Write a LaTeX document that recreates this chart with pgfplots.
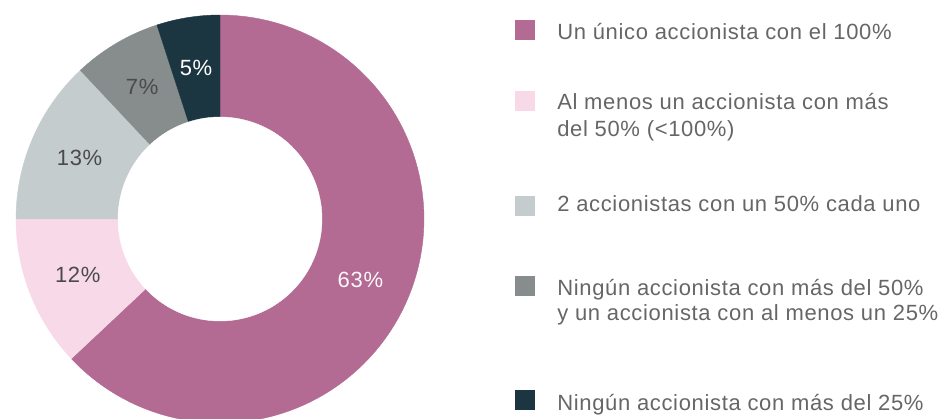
\documentclass[border=0pt]{standalone}
\usepackage{fontspec}
\setmainfont{Liberation Sans}[LetterSpace=3]
\usepackage{pgfplots}
\pgfplotsset{compat=1.18}
\usepackage{pgfplotstable}
\definecolor{c1}{HTML}{B36A93}
\definecolor{c2}{HTML}{F8D9E8}
\definecolor{c3}{HTML}{C5CCCD}
\definecolor{c4}{HTML}{868D8C}
\definecolor{c5}{HTML}{1B3640}
\definecolor{txt}{HTML}{666666}
\definecolor{lbl}{HTML}{4A4A4A}

\pgfplotstableread{
id value
1 63
2 12
3 13
4 7
5 5
}\shares

\begin{document}
\begin{tikzpicture}
\pgfplotstablegetelem{0}{value}\of\shares \edef\va{\pgfplotsretval}
\pgfplotstablegetelem{1}{value}\of\shares \edef\vb{\pgfplotsretval}
\pgfplotstablegetelem{2}{value}\of\shares \edef\vc{\pgfplotsretval}
\pgfplotstablegetelem{3}{value}\of\shares \edef\vd{\pgfplotsretval}
\pgfplotstablegetelem{4}{value}\of\shares \edef\ve{\pgfplotsretval}
\pgfmathsetmacro\aA{90}
\pgfmathsetmacro\aB{\aA-3.6*\va}
\pgfmathsetmacro\aC{\aB-3.6*\vb}
\pgfmathsetmacro\aD{\aC-3.6*\vc}
\pgfmathsetmacro\aE{\aD-3.6*\vd}
\pgfmathsetmacro\aF{\aE-3.6*\ve}
\pgfmathsetmacro\mA{(\aA+\aB)/2}
\pgfmathsetmacro\mB{(\aB+\aC)/2}
\pgfmathsetmacro\mC{(\aC+\aD)/2}
\pgfmathsetmacro\mD{(\aD+\aE)/2}
\pgfmathsetmacro\mE{(\aE+\aF)/2}
\begin{axis}[
  scale only axis, width=708.75pt, height=313.5pt,
  xmin=0, xmax=945, ymin=0, ymax=418,
  hide axis, clip=true,
]
\path (axis cs:0,0) rectangle (axis cs:945,418);
\addplot[fill=c1, draw=c1, line width=0.3pt, domain=\aB:\aA, samples=100, variable=\t] ({220+204*cos(\t)},{199+204*sin(\t)}) -- (axis cs:220,199) -- cycle;
\addplot[fill=c2, draw=c2, line width=0.3pt, domain=\aC:\aB, samples=40, variable=\t] ({220+204*cos(\t)},{199+204*sin(\t)}) -- (axis cs:220,199) -- cycle;
\addplot[fill=c3, draw=c3, line width=0.3pt, domain=\aD:\aC, samples=40, variable=\t] ({220+204*cos(\t)},{199+204*sin(\t)}) -- (axis cs:220,199) -- cycle;
\addplot[fill=c4, draw=c4, line width=0.3pt, domain=\aE:\aD, samples=30, variable=\t] ({220+204*cos(\t)},{199+204*sin(\t)}) -- (axis cs:220,199) -- cycle;
\addplot[fill=c5, draw=c5, line width=0.3pt, domain=\aF:\aE, samples=30, variable=\t] ({220+204*cos(\t)},{199+204*sin(\t)}) -- (axis cs:220,199) -- cycle;
\addplot[fill=white, draw=white, line width=0.3pt, domain=0:360, samples=150, variable=\t] ({220+102*cos(\t)},{199+102*sin(\t)}) -- cycle;

\tikzset{lab/.style={font=\fontsize{16.5}{19}\selectfont, inner sep=0pt}}
\node[lab, text=white!95!c1] at (axis cs:{220+153*cos(\mA)},{199+153*sin(\mA)}) {\va\%};
\node[lab, text=lbl] at (axis cs:{220+153*cos(\mB)},{199+153*sin(\mB)}) {\vb\%};
\node[lab, text=lbl] at (axis cs:{220+153*cos(\mC)},{199+153*sin(\mC)}) {\vc\%};
\node[lab, text=lbl] at (axis cs:{220+153*cos(\mD)},{199+153*sin(\mD)}) {\vd\%};
\node[lab, text=white] at (axis cs:{220+153*cos(\mE)},{199+153*sin(\mE)}) {\ve\%};

\fill[c1] (axis cs:515,397.5) rectangle (axis cs:535,377.5);
\fill[c2] (axis cs:515,326.5) rectangle (axis cs:535,306.5);
\fill[c3] (axis cs:515,221.5) rectangle (axis cs:535,201.5);
\fill[c4] (axis cs:515,142.5) rectangle (axis cs:535,122.5);
\fill[c5] (axis cs:515,28.5) rectangle (axis cs:535,8.5);

\tikzset{leg/.style={font=\fontsize{16.5}{19}\selectfont, text=txt, anchor=base west, inner sep=0pt}}
\node[leg] at (axis cs:557,378) {Un único accionista con el 100\%};
\node[leg] at (axis cs:557,308) {Al menos un accionista con más};
\node[leg] at (axis cs:557,281) {del 50\% (<100\%)};
\node[leg] at (axis cs:557,206.3) {2 accionistas con un 50\% cada uno};
\node[leg] at (axis cs:557,123) {Ningún accionista con más del 50\%};
\node[leg] at (axis cs:557,98) {y un accionista con al menos un 25\%};
\node[leg] at (axis cs:557,8) {Ningún accionista con más del 25\%};
\end{axis}
\end{tikzpicture}
\end{document}
